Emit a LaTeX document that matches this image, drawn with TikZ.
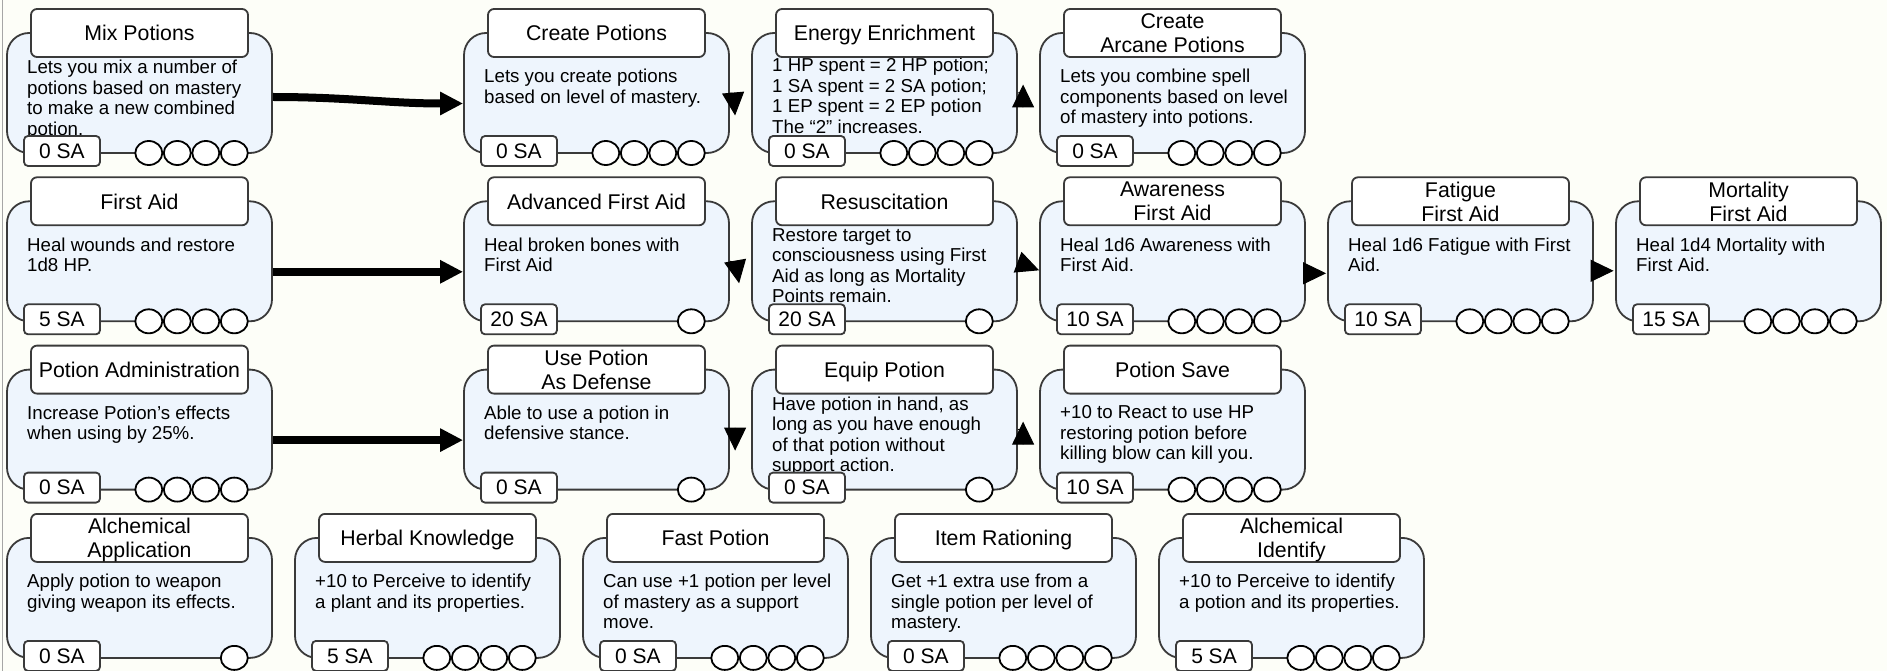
\documentclass[tikz,border=0pt]{standalone}
\usepackage{fontspec}
\setmainfont{Liberation Sans}
\usetikzlibrary{arrows.meta,calc}
\definecolor{paper}{HTML}{FDFEF8}
\definecolor{cardblue}{HTML}{EEF5FD}
\definecolor{edge}{HTML}{3A3A3A}

\begin{document}
\begin{tikzpicture}[x=1pt, y=-1pt,
  card/.style={draw=edge, fill=cardblue, line width=1.8pt, rounded corners=22pt,
    minimum width=265pt, minimum height=120pt, inner sep=0pt},
  ttl/.style={draw=edge, fill=white, line width=1.8pt, rounded corners=6pt,
    minimum width=217pt, minimum height=48pt, inner sep=0pt, align=center,
    text depth=0pt, font=\fontsize{21.3}{24}\selectfont},
  sabox/.style={draw=edge, fill=white, line width=1.8pt, rounded corners=4pt,
    minimum width=76pt, minimum height=30pt, inner sep=0pt,
    font=\fontsize{21}{24}\selectfont},
  desc/.style={anchor=north west, inner sep=0pt, align=left,
    font=\fontsize{18.7}{20.5}\selectfont},
  dot/.style={draw=black, fill=white, line width=1.8pt},
  link/.style={line width=8pt, -{Triangle[length=23pt, width=22pt]}},
  hop/.style={line width=1pt, -{Triangle[length=23pt, width=22pt]}}]
  % Page.
  \useasboundingbox (0,0) rectangle (1887,671);
  \fill[paper] (0,0) rectangle (1887,671);
  \draw[gray!70, line width=1pt] (2,0) -- (2,671);
  % Skill cards: name/left/top/text offset/SA/dots/title/text.
  \foreach \id/\x/\y/\tp/\sa/\n/\ttl/\txt in {
    mix/7/8/52/0/4/{Mix Potions}/{Lets you mix a number of\\potions based on mastery\\to make a new combined\\potion.},
    cre/464/8/61/0/4/{Create Potions}/{Lets you create potions\\based on level of mastery.},
    ene/752/8/50/0/4/{Energy Enrichment}/{1 HP spent = 2 HP potion;\\1 SA spent = 2 SA potion;\\1 EP spent = 2 EP potion\\The “2” increases.},
    arc/1040/8/61/0/4/{Create\\Arcane Potions}/{Lets you combine spell\\components based on level\\of mastery into potions.},
    fst/7/176.3/61/5/4/{First Aid}/{Heal wounds and restore\\1d8 HP.},
    adv/464/176.3/61/20/1/{Advanced First Aid}/{Heal broken bones with\\First Aid},
    res/752/176.3/52/20/1/{Resuscitation}/{Restore target to\\consciousness using First\\Aid as long as Mortality\\Points remain.},
    awa/1040/176.3/61/10/4/{Awareness\\First Aid}/{Heal 1d6 Awareness with\\First Aid.},
    fat/1328/176.3/61/10/4/{Fatigue\\First Aid}/{Heal 1d6 Fatigue with First\\Aid.},
    mor/1616/176.3/61/15/4/{Mortality\\First Aid}/{Heal 1d4 Mortality with\\First Aid.},
    adm/7/344.6/61/0/4/{Potion Administration}/{Increase Potion’s effects\\when using by 25\%.},
    def/464/344.6/61/0/1/{Use Potion\\As Defense}/{Able to use a potion in\\defensive stance.},
    eqp/752/344.6/52/0/1/{Equip Potion}/{Have potion in hand, as\\long as you have enough\\of that potion without\\support action.},
    sav/1040/344.6/61/10/4/{Potion Save}/{+10 to React to use HP\\restoring potion before\\killing blow can kill you.},
    app/7/512.9/61/0/1/{Alchemical\\Application}/{Apply potion to weapon\\giving weapon its effects.},
    herb/295/512.9/61/5/4/{Herbal Knowledge}/{+10 to Perceive to identify\\a plant and its properties.},
    fast/583/512.9/61/0/4/{Fast Potion}/{Can use +1 potion per level\\of mastery as a support\\move.},
    item/871/512.9/61/0/4/{Item Rationing}/{Get +1 extra use from a\\single potion per level of\\mastery.},
    ident/1159/512.9/61/5/4/{Alchemical\\Identify}/{+10 to Perceive to identify\\a potion and its properties.}}{
    \node[card] (\id) at (\x+132.5,\y+85) {};
    \node[desc] (\id-d) at (\x+20,\y+\tp) {\txt};
    \node[ttl] (\id-t) at (\x+132.5,\y+25) {\ttl};
    \node[sabox] (\id-s) at (\x+55,\y+143) {\sa\ SA};
    \foreach \k in {1,...,\n}
      \draw[dot] (\x+255.8-28.5*\k,\y+145) ellipse (13.5pt and 12pt);
  }
  % Long arrows.
  \draw[link] ($(mix.east)+(0,4)$) to[out=0,in=180] ($(cre.west)+(0,10.5)$);
  \draw[link] ($(fst.east)+(0,10.5)$) -- ($(adv.west)+(0,10.5)$);
  \draw[link] ($(adm.east)+(0,10.5)$) -- ($(def.west)+(0,10.5)$);
  % Short hops.
  \draw[hop] (cre.east) to[out=0,in=95] ($(ene.west)+(-16,22.5)$);
  \draw[hop] (ene.east) to[out=0,in=-90] ($(arc.west)+(-16,-8.5)$);
  \draw[hop] (adv.east) to[out=0,in=100] ($(res.west)+(-12,22)$);
  \draw[hop] ($(res.east)+(0,1)$) -- ($(awa.west)+(0,9)$);
  \draw[hop] ($(awa.east)+(0,12)$) -- ($(fat.west)+(-1,12)$);
  \draw[hop] ($(fat.east)+(0,9.5)$) -- ($(mor.west)+(-1.5,9.5)$);
  \draw[hop] (def.east) to[out=0,in=90] ($(eqp.west)+(-16,21)$);
  \draw[hop] (eqp.east) to[out=0,in=-90] ($(sav.west)+(-16,-8)$);
\end{tikzpicture}
\end{document}
